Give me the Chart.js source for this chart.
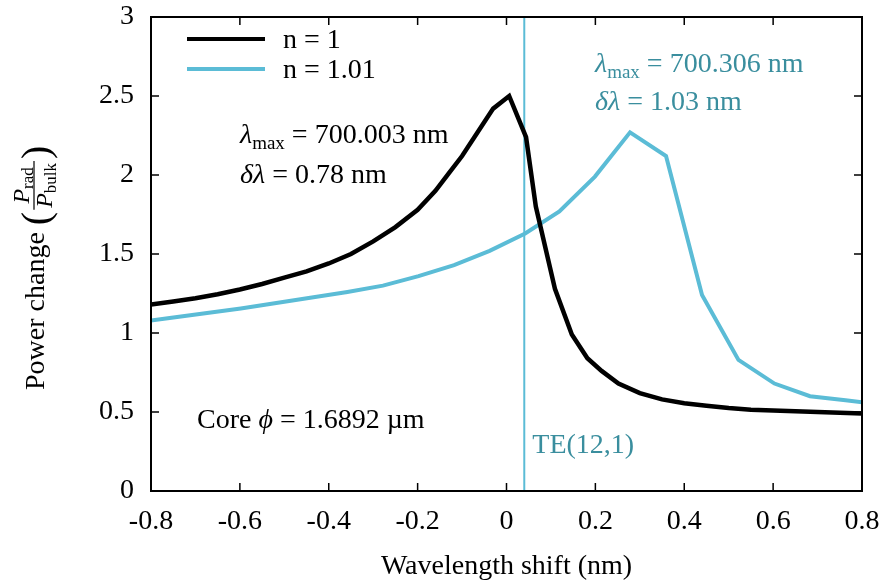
<!DOCTYPE html>
<html>
<head>
<meta charset="utf-8">
<script src="https://cdn.jsdelivr.net/npm/chart.js@4.4.0/dist/chart.umd.min.js"></script>
<style>
html, body { margin: 0; padding: 0; background: #fff; }
#wrap { width: 889px; height: 587px; }
</style>
</head>
<body>
<div id="wrap"><canvas id="myChart" width="889" height="587"></canvas></div>
<script>
// n = 1
var blackX = [-0.8, -0.75, -0.7, -0.65, -0.6, -0.55, -0.5, -0.45, -0.4, -0.35, -0.3, -0.25, -0.2, -0.16, -0.13, -0.1, -0.065, -0.03,
    0.006, 0.044, 0.066, 0.109, 0.147, 0.182, 0.214, 0.252, 0.3, 0.35, 0.4, 0.45, 0.5, 0.55, 0.6, 0.65, 0.7, 0.75, 0.8];
var blackY = [1.18, 1.20, 1.22, 1.245, 1.275, 1.31, 1.35, 1.39, 1.44, 1.50, 1.58, 1.67, 1.78, 1.90, 2.01, 2.12, 2.27, 2.42,
    2.50, 2.24, 1.80, 1.28, 0.99, 0.84, 0.76, 0.68, 0.62, 0.58, 0.555, 0.54, 0.525, 0.515, 0.51, 0.505, 0.50, 0.495, 0.49];
// n = 1.01
var cyanX = [-0.838, -0.758, -0.678, -0.598, -0.518, -0.438, -0.358, -0.278, -0.198, -0.118, -0.038,
    0.042, 0.119, 0.199, 0.278, 0.359, 0.44, 0.522, 0.603, 0.683, 0.763, 0.843];
var cyanY = [1.065, 1.095, 1.125, 1.155, 1.19, 1.225, 1.26, 1.30, 1.36, 1.43, 1.52,
    1.63, 1.77, 1.99, 2.27, 2.12, 1.24, 0.83, 0.68, 0.60, 0.575, 0.545];
// mode TE(12,1)
var modeX = 0.04;
var modeLabel = 'TE(12,1)';

var xTicks = [-0.8, -0.6, -0.4, -0.2, 0, 0.2, 0.4, 0.6, 0.8];
var yTicks = [0, 0.5, 1, 1.5, 2, 2.5, 3];

var SERIF = '"Liberation Serif", "DejaVu Serif", serif';
var CYAN = '#5bbcd6';
var TEAL = '#3a8e9e';

function toPoints(xs, ys) {
    var pts = [];
    for (var i = 0; i < xs.length; i++) {
        pts.push({x: xs[i], y: ys[i]});
    }
    return pts;
}

function fmt(v) {
    return String(Math.round(v * 10) / 10);
}

// 依次画一段段文字 (主体/斜体/下标)
function drawRich(ctx, parts, x, y, color) {
    ctx.fillStyle = color;
    ctx.textBaseline = 'alphabetic';
    ctx.textAlign = 'left';
    var cx = x;
    parts.forEach(function (p) {
        ctx.font = p.f;
        ctx.fillText(p.t, cx, y + (p.dy || 0));
        cx += ctx.measureText(p.t).width;
    });
    return cx - x;
}

function measureRich(ctx, parts) {
    var w = 0;
    parts.forEach(function (p) {
        ctx.font = p.f;
        w += ctx.measureText(p.t).width;
    });
    return w;
}

var fMain = '28px ' + SERIF,
    fIt = 'italic 28px ' + SERIF,
    fSub = '19px ' + SERIF;

var framePlugin = {
    id: 'framePlugin',
    afterDatasetsDraw: function (chart) {
        var ctx = chart.ctx,
            a = chart.chartArea,
            xs = chart.scales.x,
            ys = chart.scales.y;
        ctx.save();
        // 边框
        ctx.strokeStyle = '#000';
        ctx.lineWidth = 2;
        ctx.strokeRect(a.left, a.top, a.right - a.left, a.bottom - a.top);
        // 向内的刻度
        ctx.lineWidth = 1.5;
        ctx.beginPath();
        xTicks.forEach(function (v) {
            var px = xs.getPixelForValue(v);
            ctx.moveTo(px, a.bottom);
            ctx.lineTo(px, a.bottom - 8);
            ctx.moveTo(px, a.top);
            ctx.lineTo(px, a.top + 8);
        });
        yTicks.forEach(function (v) {
            var py = ys.getPixelForValue(v);
            ctx.moveTo(a.left, py);
            ctx.lineTo(a.left + 8, py);
            ctx.moveTo(a.right, py);
            ctx.lineTo(a.right - 8, py);
        });
        ctx.stroke();

        // 图例
        var ds = chart.data.datasets;
        [0, 1].forEach(function (i) {
            var ly = 39 + i * 30;
            ctx.strokeStyle = ds[i].borderColor;
            ctx.lineWidth = 4;
            ctx.beginPath();
            ctx.moveTo(187, ly);
            ctx.lineTo(265, ly);
            ctx.stroke();
            ctx.font = fMain;
            ctx.fillStyle = '#000';
            ctx.textBaseline = 'alphabetic';
            ctx.fillText(ds[i].label, 283, ly + 9);
        });

        // 标注
        drawRich(ctx, [{t: 'λ', f: fIt}, {t: 'max', f: fSub, dy: 6}, {t: ' = 700.003 nm', f: fMain}], 240, 143, '#000');
        drawRich(ctx, [{t: 'δλ', f: fIt}, {t: ' = 0.78 nm', f: fMain}], 240, 183, '#000');
        drawRich(ctx, [{t: 'λ', f: fIt}, {t: 'max', f: fSub, dy: 6}, {t: ' = 700.306 nm', f: fMain}], 595, 72, TEAL);
        drawRich(ctx, [{t: 'δλ', f: fIt}, {t: ' = 1.03 nm', f: fMain}], 595, 110, TEAL);
        drawRich(ctx, [{t: 'Core ', f: fMain}, {t: 'ϕ', f: fIt}, {t: ' = 1.6892 µm', f: fMain}], 197, 428, '#000');
        drawRich(ctx, [{t: modeLabel, f: fMain}], xs.getPixelForValue(modeX) + 8, 453, TEAL);

        // y轴标题
        ctx.translate(44, 390);
        ctx.rotate(-Math.PI / 2);
        var w = drawRich(ctx, [{t: 'Power change ', f: fMain}], 0, 0, '#000');
        ctx.font = '40px ' + SERIF;
        ctx.fillText('(', w, 5);
        w += ctx.measureText('(').width + 2;
        var num = [{t: 'P', f: 'italic 24px ' + SERIF}, {t: 'rad', f: '17px ' + SERIF, dy: 4}],
            den = [{t: 'P', f: 'italic 24px ' + SERIF}, {t: 'bulk', f: '17px ' + SERIF, dy: 4}],
            nw = measureRich(ctx, num),
            dw = measureRich(ctx, den),
            fw = Math.max(nw, dw) + 4;
        drawRich(ctx, num, w + (fw - nw) / 2, -15, '#000');
        drawRich(ctx, den, w + (fw - dw) / 2, 8, '#000');
        ctx.strokeStyle = '#000';
        ctx.lineWidth = 1.2;
        ctx.beginPath();
        ctx.moveTo(w, -10);
        ctx.lineTo(w + fw, -10);
        ctx.stroke();
        w += fw + 2;
        ctx.font = '40px ' + SERIF;
        ctx.fillText(')', w, 5);
        ctx.restore();
    }
};

var ctx = document.getElementById('myChart').getContext('2d');
var chart = new Chart(ctx, {
    type: 'line',
    data: {
        datasets: [{
            label: 'n = 1',
            data: toPoints(blackX, blackY),
            borderColor: '#000000',
            borderWidth: 4.5,
            pointRadius: 0,
            tension: 0,
            clip: 0
        }, {
            label: 'n = 1.01',
            data: toPoints(cyanX, cyanY),
            borderColor: CYAN,
            borderWidth: 4,
            pointRadius: 0,
            tension: 0,
            clip: 0
        }, {
            label: modeLabel,
            data: [{x: modeX, y: 0}, {x: modeX, y: 3}],
            borderColor: CYAN,
            borderWidth: 2,
            pointRadius: 0,
            clip: 0
        }]
    },
    options: {
        responsive: false,
        animation: false,
        devicePixelRatio: 1,
        layout: {padding: {top: 17, right: 27, left: 0, bottom: 0}},
        plugins: {
            legend: {display: false},
            tooltip: {enabled: false}
        },
        scales: {
            x: {
                type: 'linear',
                min: -0.8,
                max: 0.8,
                grid: {display: false, drawTicks: false},
                border: {display: false},
                afterBuildTicks: function (scale) {
                    scale.ticks = xTicks.map(function (v) { return {value: v}; });
                },
                afterFit: function (scale) {
                    scale.height = 96;
                    scale.paddingLeft = 0;
                    scale.paddingRight = 0;
                },
                ticks: {
                    padding: 14,
                    maxRotation: 0,
                    autoSkip: false,
                    color: '#000',
                    font: {family: SERIF, size: 28},
                    callback: function (v) { return fmt(v); }
                },
                title: {
                    display: true,
                    text: 'Wavelength shift (nm)',
                    color: '#000',
                    font: {family: SERIF, size: 28},
                    padding: {top: 0, bottom: 4}
                }
            },
            y: {
                type: 'linear',
                min: 0,
                max: 3,
                grid: {display: false, drawTicks: false},
                border: {display: false},
                afterBuildTicks: function (scale) {
                    scale.ticks = yTicks.map(function (v) { return {value: v}; });
                },
                afterFit: function (scale) {
                    scale.width = 151;
                    scale.paddingTop = 0;
                    scale.paddingBottom = 0;
                },
                ticks: {
                    padding: 17,
                    color: '#000',
                    font: {family: SERIF, size: 28},
                    callback: function (v) { return fmt(v); }
                }
            }
        }
    },
    plugins: [framePlugin]
});
</script>
</body>
</html>
